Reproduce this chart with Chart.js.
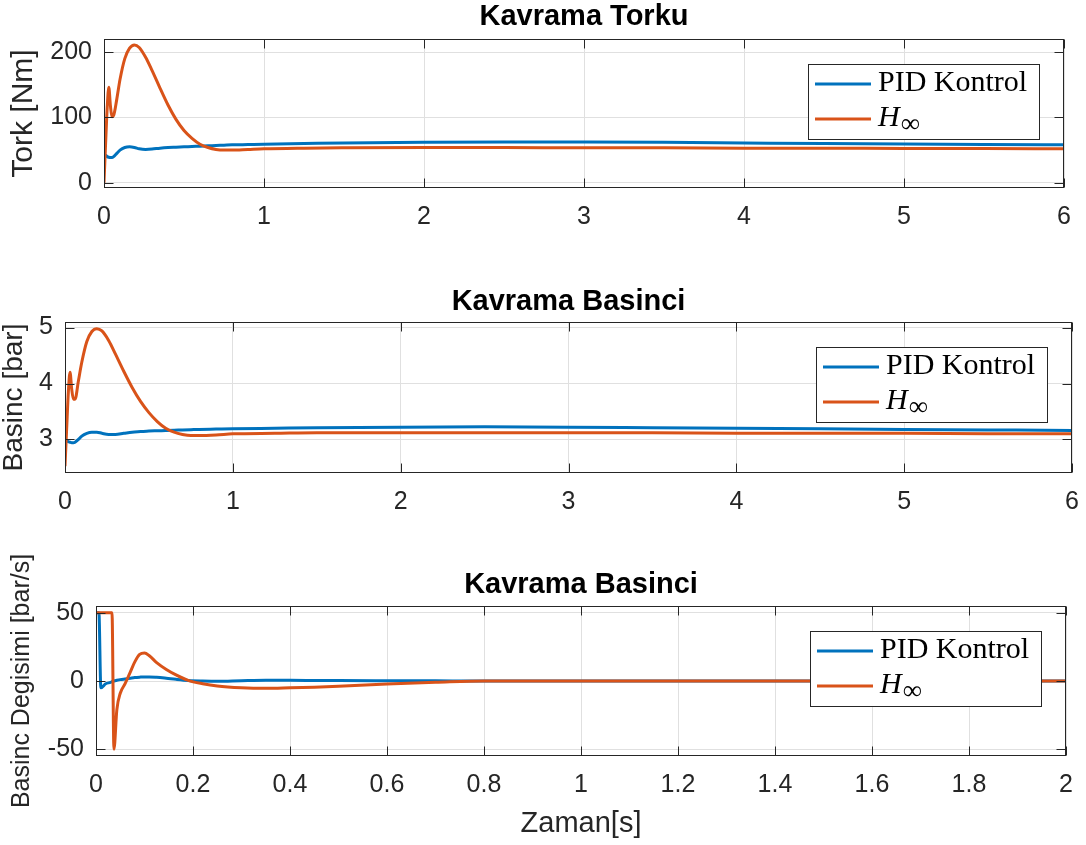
<!DOCTYPE html>
<html>
<head>
<meta charset="utf-8">
<title>Kavrama</title>
<script src="https://cdn.jsdelivr.net/npm/chart.js@4.4.1/dist/chart.umd.min.js"></script>
<style>
  html, body { margin: 0; padding: 0; background: #fff; }
  body { width: 1086px; height: 845px; position: relative; overflow: hidden; }
  canvas { position: absolute; left: 0; }
</style>
</head>
<body>
<canvas id="tork" width="1086" height="245" style="top:0px"></canvas>
<canvas id="basinc" width="1086" height="245" style="top:270px"></canvas>
<canvas id="degisim" width="1086" height="300" style="top:545px"></canvas>
<script>
console.log("kavrama grafikleri");

// seri adlari ve renkleri
const seriesNames = ["PID Kontrol", "H∞"];
const seriesColors = ["#0072BD", "#D95319"];

// ust iki grafik icin zaman [s]
const zaman = [0, 0.01, 0.02, 0.03, 0.04, 0.05, 0.06, 0.08, 0.1, 0.13, 0.16, 0.19, 0.22, 0.26, 0.3,
  0.35, 0.4, 0.45, 0.5, 0.55, 0.6, 0.65, 0.7, 0.75, 0.8, 0.9, 1, 1.25, 1.5, 2, 2.5, 3, 3.5, 4, 4.5, 5, 5.5, 6];

// kavrama torku [Nm]
const torkPid = [43, 42, 40, 39, 38.5, 38.5, 40, 45, 50, 54, 55, 54, 52, 51, 51.5,
  53, 54, 54.5, 55, 55.5, 56, 56.5, 57, 57.5, 58, 58.5, 59, 60, 61, 62, 62.5, 62.5, 62, 61, 60, 59.5, 58.5, 58];
const torkHinf = [0, 60, 115, 146, 118, 101, 103, 128, 158, 190, 206, 211, 207, 192, 172,
  145, 119, 97, 80, 68, 59, 54, 51, 50, 50, 51, 52, 53, 53.5, 54, 54, 53.5, 53.5, 53, 53, 52.5, 52.5, 52];

// kavrama basinci [bar]
const basincPid = [3.0, 2.98, 2.96, 2.95, 2.94, 2.94, 2.95, 3.0, 3.06, 3.11, 3.13, 3.13, 3.11, 3.09, 3.09,
  3.11, 3.13, 3.14, 3.15, 3.155, 3.16, 3.165, 3.17, 3.175, 3.18, 3.185, 3.19, 3.2, 3.21, 3.22, 3.225, 3.22, 3.21, 3.2, 3.19, 3.18, 3.17, 3.16];
const basincHinf = [2.52, 3.2, 3.85, 4.2, 3.9, 3.72, 3.72, 4.05, 4.38, 4.75, 4.93, 4.98, 4.94, 4.77, 4.53,
  4.22, 3.93, 3.68, 3.48, 3.32, 3.2, 3.13, 3.09, 3.07, 3.07, 3.08, 3.1, 3.11, 3.12, 3.12, 3.12, 3.12, 3.12, 3.11, 3.11, 3.11, 3.1, 3.1];

// basinc degisimi [bar/s], zaman 0-2 s
const zaman3 = [0, 0.006, 0.01, 0.02, 0.03, 0.033, 0.037, 0.043, 0.05, 0.06, 0.07, 0.08, 0.09, 0.1, 0.11,
  0.125, 0.145, 0.165, 0.19, 0.22, 0.25, 0.3, 0.35, 0.4, 0.45, 0.5, 0.6, 0.7, 0.8, 0.9, 1, 1.2, 1.4, 1.6, 1.8, 2];
const degisimPid = [50, 50, -5, -2, -1, -0.5, 0, 0.5, 1, 1.5, 2, 2.5, 2.8, 3, 3,
  2.7, 2, 1.2, 0.4, 0, -0.2, 0.2, 0.5, 0.5, 0.4, 0.3, 0.2, 0.1, 0, 0, 0, 0, 0, 0, 0, 0];
const degisimHinf = [50, 50, 50, 50, 50, 50, -50, -21, -9, -2, 6, 14, 19.5, 20.5, 18.5,
  13.5, 8.5, 4.5, 0.5, -2, -3.7, -5, -5.4, -5, -4.5, -3.8, -2.2, -1, 0, 0, 0, 0, 0, 0, 0, 0];

// eksen etiketleri
const xTicks6 = [0, 1, 2, 3, 4, 5, 6];
const xTicks2 = [0, 0.2, 0.4, 0.6, 0.8, 1, 1.2, 1.4, 1.6, 1.8, 2];
const torkTicks = [0, 100, 200];
const basincTicks = [3, 4, 5];
const degisimTicks = [-50, 0, 50];

const SANS = "'Liberation Sans', Arial, Helvetica, sans-serif";
const SERIF = "'Liberation Serif', 'Times New Roman', serif";
const AXIS = "#262626";

function points(xs, ys) {
  return xs.map((x, i) => ({ x: x, y: ys[i] }));
}

// MATLAB tarzi kutu ve iceri bakan tikler
const matlabBox = {
  id: "matlabBox",
  afterDatasetsDraw(chart) {
    const { ctx, chartArea: a, scales } = chart;
    const len = 9;
    const L = Math.round(a.left) + 0.5, R = Math.round(a.right) - 0.5;
    const T = Math.round(a.top) + 0.5, B = Math.round(a.bottom) - 0.5;
    ctx.save();
    ctx.strokeStyle = AXIS;
    ctx.lineWidth = 1;
    ctx.beginPath();
    scales.x.ticks.forEach((t) => {
      const px = Math.round(scales.x.getPixelForValue(t.value)) + 0.5;
      ctx.moveTo(px, B); ctx.lineTo(px, B - len);
      ctx.moveTo(px, T); ctx.lineTo(px, T + len);
    });
    scales.y.ticks.forEach((t) => {
      const py = Math.round(scales.y.getPixelForValue(t.value)) + 0.5;
      ctx.moveTo(L, py); ctx.lineTo(L + len, py);
      ctx.moveTo(R, py); ctx.lineTo(R - len, py);
    });
    ctx.stroke();
    ctx.strokeRect(L, T, R - L, B - T);
    ctx.restore();
  },
};

function drawLabel(ctx, text, x, y) {
  ctx.fillStyle = "#000";
  ctx.textAlign = "left";
  ctx.textBaseline = "alphabetic";
  if (text.endsWith("∞")) {
    const main = text.slice(0, -1);
    ctx.font = "italic 30px " + SERIF;
    ctx.fillText(main, x, y);
    const w = ctx.measureText(main).width;
    ctx.font = "27px " + SERIF;
    ctx.fillText("∞", x + w + 1, y + 6);
  } else {
    ctx.font = "30px " + SERIF;
    ctx.fillText(text, x, y);
  }
}

// sag ustteki lejant kutusu
const sagUstLegend = {
  id: "sagUstLegend",
  afterDraw(chart) {
    const { ctx, chartArea: a } = chart;
    const w = 231, h = 75;
    const x0 = Math.round(a.right - 25 - w), y0 = Math.round(a.top + 25);
    ctx.save();
    ctx.fillStyle = "#fff";
    ctx.fillRect(x0, y0, w, h);
    ctx.strokeStyle = AXIS;
    ctx.lineWidth = 1;
    ctx.strokeRect(x0 + 0.5, y0 + 0.5, w, h);
    chart.data.datasets.forEach((ds, i) => {
      const ly = y0 + 20 + i * 35;
      ctx.strokeStyle = ds.borderColor;
      ctx.lineWidth = 3;
      ctx.beginPath();
      ctx.moveTo(x0 + 7, ly);
      ctx.lineTo(x0 + 63, ly);
      ctx.stroke();
      drawLabel(ctx, ds.label, x0 + 70, ly + 7);
    });
    ctx.restore();
  },
};

function makeChart(id, c) {
  return new Chart(document.getElementById(id), {
    type: "line",
    data: {
      datasets: [
        { label: seriesNames[0], data: points(c.x, c.pid), borderColor: seriesColors[0], order: 1 },
        { label: seriesNames[1], data: points(c.x, c.hinf), borderColor: seriesColors[1], order: 0 },
      ],
    },
    options: {
      responsive: false,
      animation: false,
      devicePixelRatio: 1,
      layout: { padding: { left: 0, right: c.right, top: 0, bottom: 0 } },
      elements: {
        point: { radius: 0 },
        line: { borderWidth: 3, cubicInterpolationMode: "monotone", fill: false },
      },
      plugins: {
        legend: { display: false },
        tooltip: { enabled: false },
        title: {
          display: true,
          text: c.title,
          fullSize: false,
          color: "#000",
          font: { family: SANS, size: 29, weight: "bold", lineHeight: 1 },
          padding: { top: c.titleTop, bottom: c.titleBottom },
        },
      },
      scales: {
        x: {
          type: "linear",
          min: c.xTicks[0],
          max: c.xTicks[c.xTicks.length - 1],
          afterBuildTicks: (s) => { s.ticks = c.xTicks.map((v) => ({ value: v })); },
          afterFit: (s) => { s.height = c.xHeight; s.paddingLeft = 0; s.paddingRight = 0; },
          grid: { color: "#e0e0e0", lineWidth: 1, drawTicks: false },
          border: { display: false },
          ticks: {
            padding: 14,
            color: AXIS,
            font: { family: SANS, size: 25 },
            maxRotation: 0,
            autoSkip: false,
            callback: (v) => String(v),
          },
          title: c.xTitle
            ? { display: true, text: c.xTitle, color: AXIS, font: { family: SANS, size: 29, lineHeight: 1 }, padding: { top: 0, bottom: 6.5 } }
            : { display: false },
        },
        y: {
          min: c.yMin,
          max: c.yMax,
          afterBuildTicks: (s) => { s.ticks = c.yTicks.map((v) => ({ value: v })); },
          afterFit: (s) => { s.width = c.left; s.paddingTop = 0; s.paddingBottom = 0; },
          grid: { color: "#e0e0e0", lineWidth: 1, drawTicks: false },
          border: { display: false },
          ticks: {
            padding: 12,
            color: AXIS,
            font: { family: SANS, size: 25 },
            callback: (v) => String(v),
          },
          title: {
            display: true,
            text: c.yTitle,
            color: AXIS,
            font: { family: SANS, size: c.yTitleSize, lineHeight: 1 },
            padding: { top: c.yTitlePad, bottom: 0 },
          },
        },
      },
    },
    plugins: [matlabBox, sagUstLegend],
  });
}

document.addEventListener("DOMContentLoaded", function () {
  makeChart("tork", {
    x: zaman, pid: torkPid, hinf: torkHinf,
    title: "Kavrama Torku", titleTop: 2.5, titleBottom: 7.5,
    xTicks: xTicks6, xHeight: 57, right: 22, left: 104,
    yMin: -8, yMax: 220, yTicks: torkTicks,
    yTitle: "Tork [Nm]", yTitleSize: 30, yTitlePad: 9,
  });

  makeChart("basinc", {
    x: zaman, pid: basincPid, hinf: basincHinf,
    title: "Kavrama Basinci", titleTop: 17.5, titleBottom: 5.5,
    xTicks: xTicks6, xHeight: 42, right: 14, left: 65,
    yMin: 2.4, yMax: 5.1, yTicks: basincTicks,
    yTitle: "Basinc [bar]", yTitleSize: 28, yTitlePad: 0,
  });

  makeChart("degisim", {
    x: zaman3, pid: degisimPid, hinf: degisimHinf,
    title: "Kavrama Basinci", titleTop: 25.5, titleBottom: 6.5,
    xTicks: xTicks2, xHeight: 89, right: 20, left: 96,
    yMin: -55, yMax: 55, yTicks: degisimTicks,
    yTitle: "Basinc Degisimi [bar/s]", yTitleSize: 25, yTitlePad: 10,
    xTitle: "Zaman[s]",
  });
});
</script>
</body>
</html>
